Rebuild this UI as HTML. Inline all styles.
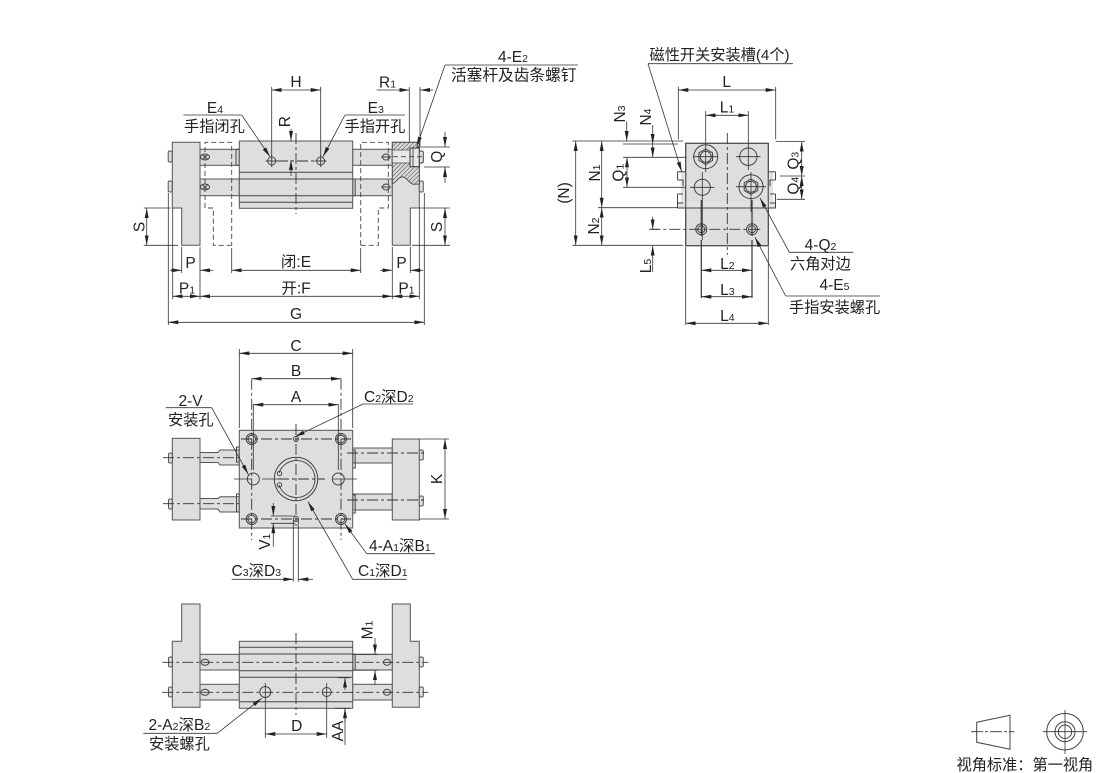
<!DOCTYPE html>
<html><head><meta charset="utf-8"><style>
html,body{margin:0;padding:0;background:#fff;width:1110px;height:773px;overflow:hidden}
svg{display:block;filter:blur(.3px)}
text{font-family:"Liberation Sans","Noto Sans CJK SC",sans-serif;font-size:15.5px;fill:#222;stroke:none}
.z{font-size:15.2px}
.m{text-anchor:middle}
tspan.s{font-size:10.5px}
.o{fill:#dedede;stroke:#555;stroke-width:1}
.w{fill:none;stroke:#444;stroke-width:1}
.d{stroke:#333;stroke-width:.8;fill:none}
.c{stroke:#333;stroke-width:.9;fill:none;stroke-dasharray:11 3 3 3}
.h{stroke:#444;stroke-width:.9;fill:none;stroke-dasharray:5 3}
.a{marker-end:url(#m)}
.b{marker-start:url(#m);marker-end:url(#m)}
</style></head><body>
<svg width="1110" height="773" viewBox="0 0 1110 773">
<defs>
<marker id="m" markerUnits="userSpaceOnUse" viewBox="0 0 10 4" refX="10" refY="2" markerWidth="10" markerHeight="4" orient="auto-start-reverse"><path d="M0,0L10,2L0,4z" fill="#222"/></marker>
<pattern id="p" width="3" height="3" patternUnits="userSpaceOnUse" patternTransform="rotate(45)"><rect width="3" height="3" fill="#d8d8d8"/><line x1="0" y1="0" x2="0" y2="3" stroke="#444" stroke-width="1"/></pattern>
</defs>

<!-- ===== FRONT VIEW ===== -->
<rect class="o" x="200" y="149.3" width="39.3" height="16"/>
<rect class="o" x="200" y="179" width="39.3" height="16.7"/>
<rect class="o" x="352.7" y="149.3" width="39.6" height="16"/>
<rect class="o" x="352.7" y="179" width="39.6" height="16.7"/>
<rect class="w" x="236" y="149.3" width="3.3" height="16"/>
<rect class="w" x="352.7" y="179" width="2.5" height="16.7"/>
<path class="o" d="M172.3,142.3H200V245.3H181.7V208H172.3Z"/>
<path class="o" d="M392.3,142.3H419.3V208H410.3V245.3H392.3Z"/>
<rect class="o" x="168.2" y="151" width="4" height="11" rx="1.5"/>
<rect class="o" x="168.2" y="181" width="4" height="11" rx="1.5"/>
<rect class="o" x="419.3" y="181" width="4" height="11" rx="1.5"/>
<path class="h" d="M231.7,245.3H213.3V208H205V142.3H231.7V245.3M360.7,245.3H378.3V208H388.3V142.3H360.7V245.3"/>
<rect class="o" x="239.3" y="141" width="113.4" height="67.3"/>
<path class="w" d="M239.3,172.3H352.7M239.3,179H352.7M239.3,195.7H352.7M239.3,202.3H352.7"/>
<!-- hatch section -->
<path d="M392.3,142.3H419.3V184L414,184.3C409,184 407,177 402.5,176.8C398,177 396,183 392.3,183.5Z" fill="url(#p)" stroke="#444" stroke-width=".9"/>
<rect x="392.3" y="150" width="18" height="13" fill="#e8e8e8" stroke="#555" stroke-width=".8"/>
<rect x="410" y="148" width="9.3" height="18.7" fill="#e8e8e8" stroke="#333"/>
<rect x="419.3" y="151" width="4" height="12" rx="1.5" fill="#e0e0e0" stroke="#444"/>
<path class="d" d="M413,148V166.7"/>
<path class="h" d="M393,156.7H423"/>
<!-- small rod screws -->
<g class="w">
<ellipse cx="205" cy="157" rx="4.5" ry="3"/><ellipse cx="205" cy="187" rx="4.5" ry="3"/>
<path d="M202,154.5L208,159.5M208,154.5L202,159.5M202,184.5L208,189.5M208,184.5L202,189.5"/>
<ellipse cx="386" cy="157" rx="3.5" ry="3"/><ellipse cx="386" cy="187" rx="3.5" ry="3"/>
<path d="M381,157H391M381,187H391"/>
</g>
<!-- ports -->
<g class="w">
<circle cx="271.7" cy="161" r="4"/><circle cx="320.7" cy="161" r="4"/>
<path d="M271.7,155V167M265.5,161H277.5M320.7,155V167M314.5,161H326.5"/>
</g>
<path class="c" d="M277,161H316"/>
<path class="c" d="M296,133V214"/>
<!-- extension lines -->
<path class="d" d="M271.7,86.7V156M320.7,86.7V156M409.3,87V142M420,87V146M168.3,193V325M424.3,193V325M172.7,208V299.3M181.7,247V273M200,247V299.3M231.7,248V273M360.7,248V273M392.3,247V299.3M410.3,247V273M419.3,208V299.3"/>
<path class="d" d="M143.7,208H170.7M143.7,245.3H178M419,208H450M412,245.3H450M416.7,147H450M424,167H450"/>
<!-- dims -->
<g class="d">
<line class="b" x1="271.7" y1="90" x2="320.7" y2="90"/>
<line class="a" x1="376.7" y1="90" x2="409.3" y2="90"/>
<line class="a" x1="433.3" y1="90" x2="420" y2="90"/>
<line class="a" x1="291" y1="129" x2="291" y2="141"/>
<line class="a" x1="291" y1="176" x2="291" y2="160"/>
<line class="a" x1="445" y1="131.7" x2="445" y2="147"/>
<line class="a" x1="445" y1="183" x2="445" y2="167"/>
<line class="b" x1="146.7" y1="208" x2="146.7" y2="245.3"/>
<line class="b" x1="445" y1="208" x2="445" y2="245.3"/>
<line class="a" x1="170" y1="270.3" x2="181.7" y2="270.3"/>
<line class="a" x1="213.3" y1="270.3" x2="200" y2="270.3"/>
<line class="a" x1="380" y1="270.3" x2="392.3" y2="270.3"/>
<line class="a" x1="423.3" y1="270.3" x2="410.3" y2="270.3"/>
<line class="b" x1="231.7" y1="270.3" x2="360.7" y2="270.3"/>
<line class="b" x1="172.7" y1="296.3" x2="200" y2="296.3"/>
<line class="b" x1="200" y1="296.3" x2="392.3" y2="296.3"/>
<line class="b" x1="392.3" y1="296.3" x2="419.3" y2="296.3"/>
<line class="b" x1="168.3" y1="322.3" x2="424.3" y2="322.3"/>
<!-- leaders -->
<path d="M183.3,115H241.7"/><line class="a" x1="241.7" y1="115" x2="270" y2="156.7"/>
<path d="M405,115H345"/><line class="a" x1="345" y1="115" x2="323" y2="156.7"/>
<path d="M445,65H578"/><line class="a" x1="445" y1="65" x2="416.7" y2="146.7"/>
</g>
<text class="m" x="296" y="87">H</text>
<text x="379" y="87.5">R<tspan class="s">1</tspan></text>
<text class="m" transform="translate(290,121.7) rotate(-90)">R</text>
<text class="m" x="215" y="113">E<tspan class="s">4</tspan></text>
<text class="m" x="375.7" y="113">E<tspan class="s">3</tspan></text>
<text class="z" x="184" y="131.5">手指闭孔</text>
<text class="z" x="344.5" y="131.5">手指开孔</text>
<text class="m" x="513" y="62">4-E<tspan class="s">2</tspan></text>
<text class="z" x="451" y="80.5" style="font-size:15.7px">活塞杆及齿条螺钉</text>
<text class="m" transform="translate(442,156.7) rotate(-90)">Q</text>
<text class="m" transform="translate(144.5,227) rotate(-90)">S</text>
<text class="m" transform="translate(442,227) rotate(-90)">S</text>
<text class="m" x="190.5" y="268">P</text>
<text class="m" x="401.5" y="268">P</text>
<text class="m" x="296" y="267">闭:E</text>
<text class="m" x="296" y="293.5">开:F</text>
<text class="m" x="187" y="293.5">P<tspan class="s">1</tspan></text>
<text class="m" x="406.5" y="293.5">P<tspan class="s">1</tspan></text>
<text class="m" x="296" y="319">G</text>

<!-- ===== RIGHT VIEW ===== -->
<rect class="o" x="685.7" y="143.3" width="82.6" height="102.4"/>
<rect x="681" y="172" width="5" height="36" fill="#e2e2e2"/>
<rect x="768" y="172" width="5" height="36" fill="#e2e2e2"/>
<rect x="677.5" y="201.7" width="98" height="6.3" fill="#e2e2e2"/>
<path class="w" d="M685.7,143.3H768.3V245.7H685.7ZM685.7,208H768.3"/>
<path class="w" d="M677.5,171.7H685.7M677.5,171.7V180M677.5,180H683V186M677.5,194H683M677.5,194V203M677.5,203H683M677.5,201V208H775.5V201M768.3,171.7H775.5M775.5,171.7V180M775.5,180H770V186M775.5,194H770M775.5,194V203M775.5,203H770"/>
<g class="w">
<circle cx="705.7" cy="156.7" r="12"/><polygon points="705.7,149 712.5,152.8 712.5,160.6 705.7,164.4 698.9,160.6 698.9,152.8"/><circle cx="705.7" cy="156.7" r="5.5"/>
<circle cx="748.3" cy="156.7" r="8.7"/>
<circle cx="702.3" cy="187.3" r="8"/>
<circle cx="751" cy="186.7" r="12"/><polygon points="751,179 757.8,182.8 757.8,190.6 751,194.4 744.2,190.6 744.2,182.8"/><circle cx="751" cy="186.7" r="5.5"/>
<circle cx="701.3" cy="229.3" r="5.5"/><circle cx="701.3" cy="229.3" r="3.5"/>
<circle cx="752" cy="229.3" r="5.5"/><circle cx="752" cy="229.3" r="3.5"/>
</g>
<path class="d" d="M693,156.7H718M736,156.7H760.5M690,187.3H714.5M736,186.7H766M705.7,111V172M748.3,111V170M702.3,172V240M751,172V212"/>
<path stroke="#333" stroke-width="1.2" fill="none" d="M701.3,200V236M752,200V236M701.3,240V298M752,240V298"/>
<path class="c" d="M727.3,133V255"/>
<path class="c" d="M649.3,229.3H762.7"/>
<path class="d" d="M678.3,86.7V139.3M775.7,86.7V139.3M572.3,141H683M623,144H678M623,157.3H686.7M623,187.3H686M598,207.7H678M572.3,245.3H683M650,229.3H660M685.7,246.7V325M768.3,246.7V325M775.7,141.5H805M780,176H805M776.7,199.3H805"/>
<g class="d">
<line class="b" x1="678.3" y1="90" x2="775.7" y2="90"/>
<line class="b" x1="705.7" y1="115.3" x2="748.3" y2="115.3"/>
<line class="b" x1="575.7" y1="141" x2="575.7" y2="245.3"/>
<line class="b" x1="601.7" y1="141" x2="601.7" y2="207.7"/>
<line class="b" x1="601.7" y1="207.7" x2="601.7" y2="245.3"/>
<line class="a" x1="626.7" y1="121.7" x2="626.7" y2="141"/>
<line class="b" x1="627" y1="157.3" x2="627" y2="187.3"/>
<line class="a" x1="652.7" y1="125" x2="652.7" y2="144"/>
<line class="a" x1="652.7" y1="144" x2="652.7" y2="157.3"/>
<line class="a" x1="652.7" y1="216.7" x2="652.7" y2="229.3"/>
<line class="a" x1="652.7" y1="272" x2="652.7" y2="245.7"/>
<line class="b" x1="801.7" y1="141.7" x2="801.7" y2="176"/>
<line class="b" x1="801.7" y1="176" x2="801.7" y2="199.3"/>
<line class="b" x1="701.3" y1="270.3" x2="752" y2="270.3"/>
<line class="b" x1="701.3" y1="296.7" x2="752" y2="296.7"/>
<line class="b" x1="685.7" y1="323.3" x2="768.3" y2="323.3"/>
<path d="M648,63.7H793"/><line class="a" x1="648" y1="63.7" x2="681.7" y2="171.7"/>
<path d="M789.3,252.3H853.3"/><line class="a" x1="789.3" y1="252.3" x2="760" y2="198"/>
<path d="M785.7,296H880"/><line class="a" x1="785.7" y1="296" x2="755" y2="237.3"/>
</g>
<text class="z" x="649.5" y="60">磁性开关安装槽(4个)</text>
<text class="m" x="726.7" y="87">L</text>
<text class="m" x="727" y="112.5">L<tspan class="s">1</tspan></text>
<text class="m" x="727.3" y="269">L<tspan class="s">2</tspan></text>
<text class="m" x="727.3" y="295">L<tspan class="s">3</tspan></text>
<text class="m" x="727.3" y="321">L<tspan class="s">4</tspan></text>
<text class="m" transform="translate(569,193) rotate(-90)">(N)</text>
<text class="m" transform="translate(600,173) rotate(-90)">N<tspan class="s">1</tspan></text>
<text class="m" transform="translate(599,226) rotate(-90)">N<tspan class="s">2</tspan></text>
<text class="m" transform="translate(625,114) rotate(-90)">N<tspan class="s">3</tspan></text>
<text class="m" transform="translate(651,117) rotate(-90)">N<tspan class="s">4</tspan></text>
<text class="m" transform="translate(623.5,172.7) rotate(-90)">Q<tspan class="s">1</tspan></text>
<text class="m" transform="translate(651,266) rotate(-90)">L<tspan class="s">5</tspan></text>
<text class="m" transform="translate(798.5,160.7) rotate(-90)">Q<tspan class="s">3</tspan></text>
<text class="m" transform="translate(798.5,185.7) rotate(-90)">Q<tspan class="s">4</tspan></text>
<text class="m" x="820.5" y="250">4-Q<tspan class="s">2</tspan></text>
<text class="z" x="790" y="269">六角对边</text>
<text class="m" x="834.5" y="290">4-E<tspan class="s">5</tspan></text>
<text class="z" x="789" y="312.5">手指安装螺孔</text>

<!-- ===== TOP VIEW ===== -->
<path class="o" d="M200,452.5H218L220,450H239.3V465H220L218,462.5H200Z"/>
<path class="o" d="M200,498.5H218L220,496.7H239.3V512H220L218,509H200Z"/>
<path class="o" d="M352.7,448H392.3V463H352.7Z"/>
<path class="o" d="M352.7,494H392.3V510H352.7Z"/>
<rect class="w" x="236.5" y="447" width="2.8" height="15"/>
<rect class="w" x="236.5" y="494" width="2.8" height="18"/>
<rect class="w" x="352.7" y="450" width="2.5" height="18"/>
<rect class="w" x="352.7" y="495" width="2.5" height="18"/>
<rect class="o" x="172.3" y="438.3" width="27.7" height="81.7"/>
<rect class="o" x="392.3" y="439" width="27" height="81"/>
<rect class="o" x="168.5" y="453" width="3.8" height="10" rx="1.5"/>
<rect class="o" x="168.5" y="499" width="3.8" height="10" rx="1.5"/>
<rect class="o" x="419.3" y="450" width="4" height="10" rx="1.5"/>
<rect class="o" x="419.3" y="496" width="4" height="10" rx="1.5"/>
<rect class="o" x="239.3" y="430.3" width="113.4" height="97.7"/>
<path class="c" d="M163,457.7H239M163,503.7H239M347,453H425M347,500H425"/>
<g class="w">
<circle cx="251.7" cy="439" r="5.5"/><circle cx="251.7" cy="439" r="3.8"/>
<circle cx="341" cy="439" r="5.5"/><circle cx="341" cy="439" r="3.8"/>
<circle cx="251.7" cy="519" r="5.5"/><circle cx="251.7" cy="519" r="3.8"/>
<circle cx="341" cy="519" r="5.5"/><circle cx="341" cy="519" r="3.8"/>
<circle cx="253.3" cy="479" r="6"/><circle cx="338.3" cy="479" r="6"/>
<circle cx="296" cy="439" r="2.5"/><circle cx="296" cy="519" r="2.5"/>
<circle cx="296" cy="479" r="21.7"/>
<path d="M279,473A18.5,18.5 0 1 1 279,485"/>
<circle cx="279.5" cy="473.5" r="2.2"/><circle cx="279.5" cy="485" r="2.2"/>
</g>
<path class="c" d="M251.7,378.7V540M341,378.7V540M241,439H351M241,519H351"/>
<path class="d" d="M253.3,404V470M338.3,404V470"/>
<path class="d" d="M234,479H252M333,479H357M262,479H278"/>
<path class="c" d="M278,479H325"/>
<path class="c" d="M296,424V526"/>
<path class="d" d="M239.3,349V428M352.7,349V428M419,439H449M419,519H449M270.7,516H295M270.7,523.3H295M293.3,520V581.7M298.3,520V581.7"/>
<g class="d">
<line class="b" x1="239.3" y1="353.3" x2="352.7" y2="353.3"/>
<line class="b" x1="251.7" y1="378.7" x2="341" y2="378.7"/>
<line class="b" x1="253.3" y1="404.7" x2="338.3" y2="404.7"/>
<line class="b" x1="445" y1="439" x2="445" y2="519"/>
<line class="a" x1="273.3" y1="503" x2="273.3" y2="516"/>
<line class="a" x1="273.3" y1="546.7" x2="273.3" y2="523.3"/>
<path d="M165.7,407.7H211.7"/><line class="a" x1="211.7" y1="407.7" x2="248.3" y2="474.3"/>
<path d="M363,404H413"/><line class="a" x1="363" y1="404" x2="295" y2="436.7"/>
<path d="M366.7,553.7H435"/><line class="a" x1="366.7" y1="553.7" x2="345" y2="524"/>
<path d="M352.7,579.3H406.7"/><line class="a" x1="352.7" y1="579.3" x2="308" y2="501.7"/>
<line class="a" x1="231.7" y1="579.3" x2="293.3" y2="579.3"/>
<line class="a" x1="313" y1="579.3" x2="298.3" y2="579.3"/>
</g>
<text class="m" x="296" y="351">C</text>
<text class="m" x="296" y="376">B</text>
<text class="m" x="296" y="402">A</text>
<text x="364" y="402">C<tspan class="s">2</tspan>深D<tspan class="s">2</tspan></text>
<text class="m" x="190.5" y="406">2-V</text>
<text class="z" x="168" y="425">安装孔</text>
<text class="m" transform="translate(442,479) rotate(-90)">K</text>
<text class="m" transform="translate(270,541.7) rotate(-90)">V<tspan class="s">1</tspan></text>
<text x="369" y="551">4-A<tspan class="s">1</tspan>深B<tspan class="s">1</tspan></text>
<text x="358" y="576">C<tspan class="s">1</tspan>深D<tspan class="s">1</tspan></text>
<text x="231.5" y="576">C<tspan class="s">3</tspan>深D<tspan class="s">3</tspan></text>

<!-- ===== BOTTOM VIEW ===== -->
<rect class="o" x="200" y="654.3" width="39.3" height="15.7"/>
<rect class="o" x="200" y="684.3" width="39.3" height="15.7"/>
<rect class="o" x="352.7" y="654.3" width="39.6" height="15.7"/>
<rect class="o" x="352.7" y="684.3" width="39.6" height="15.7"/>
<rect class="w" x="352.7" y="654.3" width="2.5" height="15.7"/>
<path class="o" d="M181.7,604H200V707.3H172.3V641.3H181.7Z"/>
<path class="o" d="M392.3,604H410.3V641.3H419.3V707.3H392.3Z"/>
<rect class="o" x="168.5" y="657" width="3.8" height="10" rx="1.5"/>
<rect class="o" x="168.5" y="687" width="3.8" height="10" rx="1.5"/>
<rect class="o" x="419.3" y="657" width="4" height="10" rx="1.5"/>
<rect class="o" x="419.3" y="687" width="4" height="10" rx="1.5"/>
<rect class="o" x="239.3" y="641.3" width="113.4" height="67"/>
<path class="w" d="M239.3,647.3H352.7M239.3,654H352.7M239.3,670.7H352.7M239.3,677.3H352.7M239.3,701.7H352.7"/>
<g class="w">
<ellipse cx="205" cy="662.3" rx="4" ry="3"/><ellipse cx="205" cy="692.3" rx="4" ry="3"/>
<ellipse cx="387" cy="662.3" rx="3.5" ry="3"/><ellipse cx="387" cy="692.3" rx="3.5" ry="3"/>
<circle cx="265.3" cy="692" r="5.5"/><circle cx="326.7" cy="692" r="4.5"/>
</g>
<path class="c" d="M162.3,662.3H428.3M162.3,692.3H428.3"/>
<path class="c" d="M296,633V715"/>
<path class="d" d="M265.3,683V738M326.7,683V738M352.7,654.3H378M352.7,670.2H378M338,677.7H350M335,708.3H350M345,708V745"/>
<g class="d">
<line class="b" x1="265.3" y1="734" x2="326.7" y2="734"/>
<line class="a" x1="345" y1="690" x2="345" y2="677.7"/>
<line class="a" x1="345" y1="722" x2="345" y2="708.3"/>
<line class="a" x1="375" y1="638" x2="375" y2="654.3"/>
<line class="a" x1="375" y1="685" x2="375" y2="670.2"/>
<path d="M143.3,733.3H217.3"/><line class="a" x1="217.3" y1="733.3" x2="261.7" y2="698.3"/>
</g>
<text class="m" x="296.7" y="731">D</text>
<text class="m" transform="translate(343,731) rotate(-90)">AA</text>
<text class="m" transform="translate(372.5,630) rotate(-90)">M<tspan class="s">1</tspan></text>
<text x="148.5" y="730">2-A<tspan class="s">2</tspan>深B<tspan class="s">2</tspan></text>
<text class="z" x="149" y="749">安装螺孔</text>

<!-- ===== LEGEND ===== -->
<path class="w" d="M976.7,722.3L1010,715.3V749.3L976.7,742.3Z"/>
<path class="c" d="M971,731.7H1014.3" style="stroke-dasharray:12 2 3 2"/>
<g class="w"><circle cx="1065" cy="731.7" r="18.3"/><circle cx="1065" cy="731.7" r="10"/><circle cx="1065" cy="731.7" r="6.7"/></g>
<path class="d" d="M1043,731.7H1087M1065,710V754"/>
<text class="z" x="956.5" y="770">视角标准：第一视角</text>
</svg>
</body></html>
